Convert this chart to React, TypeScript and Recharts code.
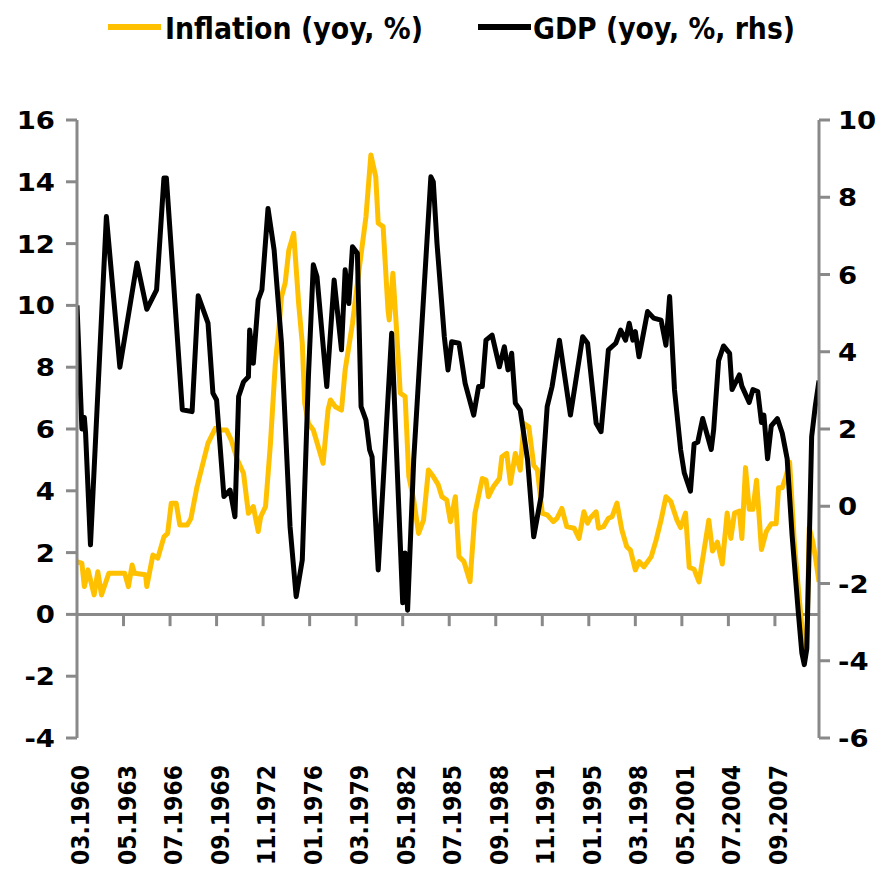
import React from 'react';
import { LineChart, Line, XAxis, YAxis, ReferenceLine } from 'recharts';

// Category labels (monthly data starting 03.1960, one label every 38 months)
const tickLabels = ['03.1960', '05.1963', '07.1966', '09.1969', '11.1972', '01.1976', '03.1979', '05.1982', '07.1985', '09.1988', '11.1991', '01.1995', '03.1998', '05.2001', '07.2004', '09.2007'];
const tickMonths = [0, 38, 76, 114, 152, 190, 228, 266, 304, 342, 380, 418, 456, 494, 532, 570];
const leftTicks = [-4, -2, 0, 2, 4, 6, 8, 10, 12, 14, 16];
const rightTicks = [-6, -4, -2, 0, 2, 4, 6, 8, 10];

// GDP (yoy, %, rhs) — month index since 03.1960 and value
const gdpMonths = [0, 4, 6, 7, 11, 24, 35, 49, 57, 65, 71, 73, 86, 94, 99, 107, 111, 114, 120, 125, 129, 132, 136, 140, 141, 144, 148, 151, 156, 161, 167, 174, 179, 184, 189, 193, 196, 204, 210, 216, 219, 222, 225, 229, 232, 236, 239, 241, 246, 257, 264, 266, 268, 270, 275, 289, 291, 294, 300, 303, 306, 312, 317, 324, 328, 331, 334, 339, 345, 349, 352, 355, 358, 362, 368, 373, 379, 384, 388, 394, 403, 413, 417, 424, 428, 434, 440, 444, 448, 451, 454, 456, 459, 466, 471, 477, 481, 484, 488, 493, 496, 501, 504, 507, 511, 518, 520, 524, 528, 533, 535, 541, 543, 549, 552, 556, 559, 561, 564, 567, 572, 576, 580, 584, 589, 592, 594, 596, 598, 600, 603, 606];
const gdpValues = [5.2, 2.0, 2.3, 1.9, -1.0, 7.5, 3.6, 6.3, 5.1, 5.6, 8.5, 8.5, 2.5, 2.45, 5.45, 4.74, 2.93, 2.75, 0.25, 0.42, -0.27, 2.84, 3.22, 3.35, 4.56, 3.7, 5.34, 5.6, 7.71, 6.63, 4.22, -0.53, -2.34, -1.39, 3.35, 6.25, 5.94, 3.1, 5.86, 4.05, 6.12, 5.25, 6.72, 6.55, 2.58, 2.23, 1.46, 1.28, -1.65, 4.48, -0.95, -2.5, -1.21, -2.69, 1.2, 8.53, 8.4, 6.81, 4.39, 3.53, 4.26, 4.22, 3.18, 2.36, 3.1, 3.1, 4.3, 4.43, 3.61, 4.13, 3.53, 3.96, 2.67, 2.49, 1.2, -0.79, 0.25, 2.58, 3.1, 4.3, 2.36, 4.39, 4.22, 2.15, 1.93, 4.05, 4.22, 4.56, 4.3, 4.74, 4.3, 4.52, 3.87, 5.04, 4.87, 4.82, 4.17, 5.43, 3.01, 1.46, 0.86, 0.39, 1.61, 1.66, 2.27, 1.47, 1.99, 3.77, 4.15, 3.96, 3.02, 3.4, 3.11, 2.69, 3.02, 2.97, 2.17, 2.36, 1.23, 2.08, 2.27, 1.89, 1.23, -0.74, -2.71, -3.8, -4.1, -3.7, -1.0, 1.8, 2.6, 3.25];

// Inflation (yoy, %) — month index since 03.1960 and value
const inflationMonths = [0, 4, 6, 9, 14, 17, 20, 26, 39, 42, 45, 47, 56, 57, 62, 66, 71, 74, 77, 81, 84, 90, 93, 98, 101, 107, 113, 117, 122, 126, 131, 136, 140, 144, 148, 150, 154, 158, 162, 165, 167, 170, 173, 177, 181, 184, 186, 189, 193, 201, 205, 207, 211, 216, 219, 225, 230, 236, 240, 244, 246, 250, 254, 255, 258, 261, 264, 268, 271, 275, 279, 283, 287, 291, 295, 298, 302, 305, 309, 312, 316, 321, 325, 331, 334, 336, 340, 345, 347, 351, 354, 358, 362, 365, 369, 373, 376, 380, 384, 389, 392, 396, 400, 406, 410, 414, 417, 419, 424, 426, 430, 434, 437, 441, 445, 449, 452, 456, 459, 463, 469, 473, 477, 481, 485, 490, 493, 497, 500, 504, 508, 512, 516, 519, 523, 527, 531, 534, 537, 541, 543, 546, 549, 552, 555, 559, 563, 567, 571, 573, 576, 579, 582, 586, 590, 594, 596, 598, 601, 603, 606];
const inflationValues = [1.71, 1.65, 0.9, 1.44, 0.63, 1.38, 0.63, 1.33, 1.33, 0.9, 1.6, 1.33, 1.28, 0.9, 1.92, 1.82, 2.51, 2.62, 3.6, 3.6, 2.89, 2.89, 3.1, 4.13, 4.6, 5.54, 6.02, 5.97, 5.97, 5.64, 5.0, 4.57, 3.27, 3.49, 2.68, 3.16, 3.49, 5.54, 8.13, 9.31, 10.28, 10.72, 11.79, 12.33, 10.07, 8.77, 6.83, 6.18, 5.97, 4.89, 6.61, 6.94, 6.72, 6.61, 7.91, 9.42, 11.04, 12.87, 14.87, 14.16, 12.66, 12.55, 9.85, 9.53, 11.04, 9.2, 7.16, 7.05, 4.46, 3.7, 2.62, 3.05, 4.67, 4.46, 4.2, 3.81, 3.7, 3.0, 3.81, 1.87, 1.71, 1.06, 3.27, 4.4, 4.35, 3.81, 4.13, 4.4, 5.1, 5.21, 4.24, 5.21, 4.67, 6.18, 6.07, 4.83, 4.67, 3.27, 3.22, 3.0, 3.11, 3.43, 2.84, 2.79, 2.46, 3.32, 2.95, 3.11, 3.32, 2.79, 2.84, 3.11, 3.16, 3.6, 2.73, 2.19, 2.08, 1.44, 1.71, 1.54, 1.87, 2.41, 3.05, 3.81, 3.65, 3.05, 2.81, 3.28, 1.52, 1.46, 1.05, 2.05, 3.05, 2.05, 2.34, 1.63, 3.28, 2.46, 3.28, 3.34, 2.46, 4.75, 3.4, 3.4, 4.34, 2.1, 2.69, 2.93, 2.93, 4.1, 4.1, 4.46, 4.93, 2.22, 0.46, -1.3, -1.07, 2.81, 2.34, 1.87, 1.05];

const gdpData = gdpMonths.map((m, i) => ({ m, gdp: gdpValues[i] }));
const inflationData = inflationMonths.map((m, i) => ({ m, inflation: inflationValues[i] }));

const AXIS_GRAY = '#898989';
const INFL_COLOR = '#FFC000';
const GDP_COLOR = '#000000';
const TICK_FONT = "'DejaVu Sans', Verdana, sans-serif";
const LEGEND_FONT = "'Liberation Sans Narrow', 'DejaVu Sans Condensed', 'DejaVu Sans', sans-serif";

const XTick = (props: any) => {
  const { x, y, payload } = props;
  const idx = tickMonths.indexOf(payload.value);
  const label = idx >= 0 ? tickLabels[idx] : '';
  return (
    <text
      transform={`translate(${x + 12}, ${y}) rotate(-90) scale(1, 1.15)`}
      textAnchor="end"
      fontSize={22}
      fontWeight="bold"
      fontFamily={TICK_FONT}
      fill="#000"
    >
      {label}
    </text>
  );
};

const YTick = (props: any) => {
  const { x, y, payload, textAnchor } = props;
  return (
    <text
      transform={`translate(${x}, ${y}) scale(1.1, 1)`}
      dy="0.36em"
      textAnchor={textAnchor}
      fontSize={25}
      fontWeight="bold"
      fontFamily={TICK_FONT}
      fill="#000"
    >
      {payload.value}
    </text>
  );
};

const Legend = () => (
  <svg width={884} height={60} style={{ position: 'absolute', left: 0, top: 0 }}>
    <line x1={108} y1={27} x2={161} y2={27} stroke={INFL_COLOR} strokeWidth={6} />
    <text x={165} y={39} fontSize={31} fontWeight="bold" fontFamily={LEGEND_FONT} fill="#000" textLength={258} lengthAdjust="spacingAndGlyphs">
      Inflation (yoy, %)
    </text>
    <line x1={478} y1={27} x2={531} y2={27} stroke={GDP_COLOR} strokeWidth={6} />
    <text x={533} y={39} fontSize={31} fontWeight="bold" fontFamily={LEGEND_FONT} fill="#000" textLength={262} lengthAdjust="spacingAndGlyphs">
      GDP (yoy, %, rhs)
    </text>
  </svg>
);

export default function App() {
  return (
    <div style={{ position: 'absolute', left: 0, top: 0, width: 884, height: 877, background: '#fff' }}>
      <LineChart width={884} height={877} margin={{ top: 120, right: 5, bottom: 9, left: 17 }}>
        <XAxis
          type="number"
          dataKey="m"
          domain={[0, 606]}
          ticks={tickMonths}
          interval={0}
          axisLine={false}
          tickLine={false}
          tickSize={0}
          tickMargin={27}
          height={130}
          tick={<XTick />}
          allowDataOverflow
        />
        <YAxis
          yAxisId="left"
          orientation="left"
          domain={[-4, 16]}
          ticks={leftTicks}
          interval={0}
          width={60}
          stroke={AXIS_GRAY}
          axisLine={{ stroke: AXIS_GRAY, strokeWidth: 3 }}
          tickLine={{ stroke: AXIS_GRAY, strokeWidth: 3 }}
          tickSize={11}
          tickMargin={11}
          tick={<YTick />}
          allowDataOverflow
        />
        <YAxis
          yAxisId="right"
          orientation="right"
          domain={[-6, 10]}
          ticks={rightTicks}
          interval={0}
          width={60}
          stroke={AXIS_GRAY}
          axisLine={{ stroke: AXIS_GRAY, strokeWidth: 3 }}
          tickLine={{ stroke: AXIS_GRAY, strokeWidth: 3 }}
          tickSize={11}
          tickMargin={8}
          tick={<YTick />}
          allowDataOverflow
        />
        <ReferenceLine yAxisId="left" y={0} stroke={AXIS_GRAY} strokeWidth={3} />
        {tickMonths.slice(1).map((t) => (
          <ReferenceLine
            key={t}
            yAxisId="left"
            segment={[{ x: t, y: 0 }, { x: t, y: -0.38 }]}
            stroke={AXIS_GRAY}
            strokeWidth={3}
          />
        ))}
        <Line
          data={inflationData}
          yAxisId="left"
          dataKey="inflation"
          name="Inflation (yoy, %)"
          stroke={INFL_COLOR}
          strokeWidth={5}
          dot={false}
          type="linear"
          strokeLinejoin="round"
          isAnimationActive={false}
        />
        <Line
          data={gdpData}
          yAxisId="right"
          dataKey="gdp"
          name="GDP (yoy, %, rhs)"
          stroke={GDP_COLOR}
          strokeWidth={5}
          dot={false}
          type="linear"
          strokeLinejoin="round"
          isAnimationActive={false}
        />
      </LineChart>
      <Legend />
    </div>
  );
}
